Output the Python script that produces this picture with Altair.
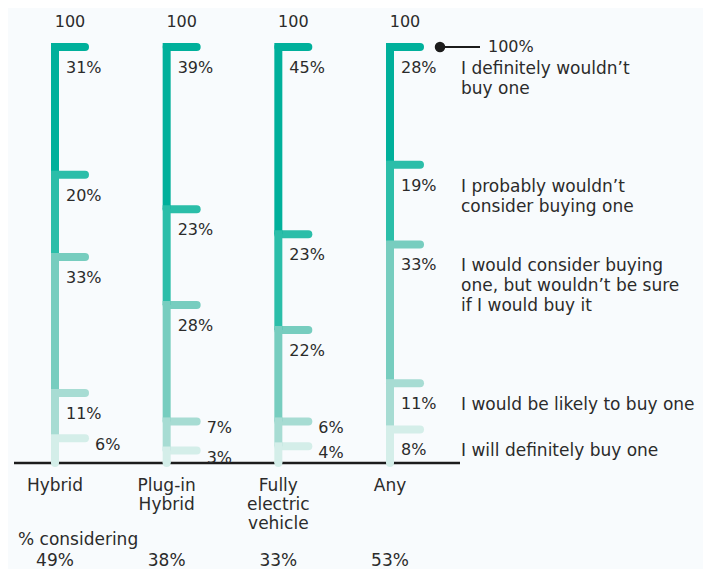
import altair as alt
import pandas as pd

# ---------------- data ----------------
categories = ["Hybrid", "Plug-in Hybrid", "Fully electric vehicle", "Any"]
category_labels = ["Hybrid", "Plug-in\nHybrid", "Fully\nelectric\nvehicle", "Any"]
responses = [
    "I definitely wouldn’t buy one",
    "I probably wouldn’t consider buying one",
    "I would consider buying one, but wouldn’t be sure if I would buy it",
    "I would be likely to buy one",
    "I will definitely buy one",
]
legend_labels = [
    "I definitely wouldn’t\nbuy one",
    "I probably wouldn’t\nconsider buying one",
    "I would consider buying\none, but wouldn’t be sure\nif I would buy it",
    "I would be likely to buy one",
    "I will definitely buy one",
]
hybrid = [31, 20, 33, 11, 6]
plugin_hybrid = [39, 23, 28, 7, 3]
fully_electric = [45, 23, 22, 6, 4]
any_type = [28, 19, 33, 11, 8]
considering = [49, 38, 33, 53]
top_label = "100"
top_legend = "100%"
considering_title = "% considering"

colors = ["#00B09B", "#2BBEA9", "#77CDBF", "#A7DCD3", "#D4EEE9"]
FONT = "DejaVu Sans"
TEXT = "#2b2b2b"

series = [hybrid, plugin_hybrid, fully_electric, any_type]
rows = []
for lvl in range(len(responses)):
    for ci, cat in enumerate(categories):
        rows.append({
            "category": cat,
            "response": responses[lvl],
            "legend": legend_labels[lvl],
            "level": lvl,
            "value": series[ci][lvl],
        })
df = pd.DataFrame(rows)
cat_df = pd.DataFrame({"category": categories, "label": category_labels,
                       "considering": considering})

# ---------------- scales ----------------
xs = alt.Scale(type="point", domain=categories, range=[47, 382], padding=0)
ys = alt.Scale(domain=[0, 1], range=[455, 39], nice=False, zero=False)
x_enc = alt.X("category:N", scale=xs, axis=None)
color_enc = alt.Color("response:N", scale=alt.Scale(domain=responses, range=colors), legend=None)

base = alt.Chart(df).transform_stack(
    stack="value",
    groupby=["category"],
    as_=["y0", "y1"],
    sort=[alt.SortField("level", order="descending")],
    offset="normalize",
)

baseline = alt.Chart(pd.DataFrame({"v": [0]})).mark_rule(
    strokeWidth=2.5, color="#1c1c1c"
).encode(
    x=alt.value(6), x2=alt.value(452),
    y=alt.Y("v:Q", scale=ys, axis=None),
)

ticks = base.mark_rule(strokeWidth=8, strokeCap="round", x2Offset=30).encode(
    x=x_enc, x2=alt.X2("category:N"),
    y=alt.Y("y1:Q", scale=ys, axis=None),
    color=color_enc,
)

verticals = base.mark_rule(strokeWidth=8, strokeCap="butt", y2Offset=-4).encode(
    x=x_enc,
    y=alt.Y("y0:Q", scale=ys, axis=None),
    y2=alt.Y2("y1:Q"),
    color=color_enc,
    order=alt.Order("level:Q", sort="ascending"),
)

caps = alt.Chart(cat_df).mark_circle(size=64, opacity=1, color=colors[-1]).encode(
    x=x_enc, y=alt.YDatum(0, type="quantitative", scale=ys, axis=None)
)

labels_big = base.transform_filter("datum.value >= 8").transform_calculate(
    lbl="datum.value + '%'"
).mark_text(align="left", baseline="middle", dx=11, dy=21, fontSize=16,
            font=FONT, color=TEXT).encode(
    x=x_enc, y=alt.Y("y1:Q", scale=ys, axis=None), text="lbl:N"
)

labels_small = base.transform_filter("datum.value < 8").transform_calculate(
    lbl="datum.value + '%'"
).mark_text(align="left", baseline="middle", dx=40, dy=7, fontSize=16,
            font=FONT, color=TEXT).encode(
    x=x_enc, y=alt.Y("y1:Q", scale=ys, axis=None), text="lbl:N"
)

top_text = alt.Chart(cat_df).mark_text(
    align="center", baseline="middle", dx=15, dy=-25, fontSize=16, font=FONT, color=TEXT
).encode(
    x=x_enc, y=alt.YDatum(1, type="quantitative", scale=ys, axis=None),
    text=alt.value(top_label),
)

cat_text = alt.Chart(cat_df).mark_text(
    align="center", baseline="alphabetic", lineBreak="\n", lineHeight=19,
    fontSize=17, font=FONT, color=TEXT
).encode(x=x_enc, y=alt.value(483), text="label:N")

cons_title = alt.Chart(pd.DataFrame({"t": [considering_title]})).mark_text(
    align="left", baseline="middle", fontSize=17, font=FONT, color=TEXT
).encode(x=alt.value(10), y=alt.value(532), text="t:N")

cons_vals = alt.Chart(cat_df).transform_calculate(
    c="datum.considering + '%'"
).mark_text(align="center", baseline="middle", fontSize=17, font=FONT, color=TEXT).encode(
    x=x_enc, y=alt.value(553), text="c:N"
)

legend_text = base.transform_filter("datum.category == 'Any'").mark_text(
    align="left", baseline="alphabetic", lineBreak="\n", lineHeight=20, dy=27,
    fontSize=17, font=FONT, color=TEXT
).encode(x=alt.value(453), y=alt.Y("y1:Q", scale=ys, axis=None), text="legend:N")

one_df = pd.DataFrame({"t": [top_legend]})
leg_line = alt.Chart(one_df).mark_rule(strokeWidth=2, color="#1c1c1c").encode(
    x=alt.value(432), x2=alt.value(472),
    y=alt.YDatum(1, type="quantitative", scale=ys, axis=None),
)
leg_dot = alt.Chart(one_df).mark_circle(size=110, opacity=1, color="#1c1c1c").encode(
    x=alt.value(432), y=alt.YDatum(1, type="quantitative", scale=ys, axis=None)
)
leg_100 = alt.Chart(one_df).mark_text(
    align="left", baseline="middle", fontSize=16, font=FONT, color=TEXT
).encode(x=alt.value(480), y=alt.YDatum(1, type="quantitative", scale=ys, axis=None), text="t:N")

chart = alt.layer(
    baseline, ticks, verticals, caps, labels_big, labels_small, top_text,
    cat_text, cons_title, cons_vals, legend_text, leg_line, leg_dot, leg_100,
).properties(
    width=695, height=561, padding=0,
    autosize=alt.AutoSizeParams(type="none"),
    background="#F8FBFD",
).configure_view(stroke=None)

chart.save("out.html", embed_options={"renderer": "svg", "actions": False})
